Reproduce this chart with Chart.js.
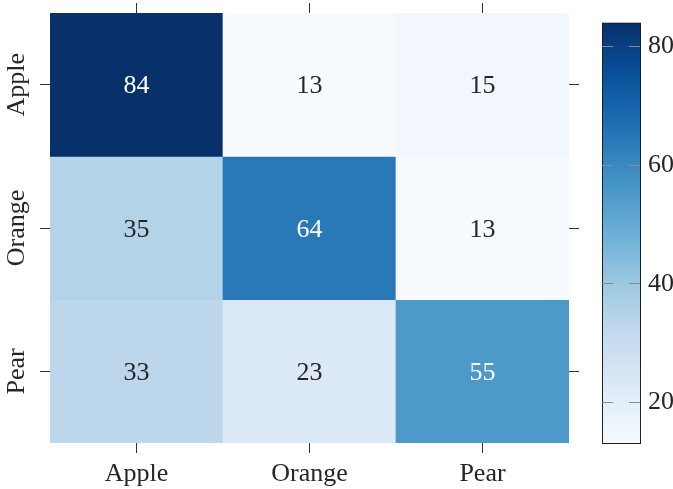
<!DOCTYPE html>
<html>
<head>
<meta charset="utf-8">
<title>Confusion matrix</title>
<script src="https://cdn.jsdelivr.net/npm/chart.js@4.4.0/dist/chart.umd.min.js"></script>
<style>
  html, body { margin: 0; padding: 0; background: #ffffff; }
  #wrap { position: relative; width: 673px; height: 489px; }
  #heatBox { position: absolute; left: 0; top: 0; width: 673px; height: 489px; }
  #barBox { position: absolute; left: 590px; top: 0; width: 83px; height: 489px; }
</style>
</head>
<body>
<div id="wrap">
  <div id="heatBox"><canvas id="heat"></canvas></div>
  <div id="barBox"><canvas id="bar"></canvas></div>
</div>
<script>
// Column (predicted) and row (actual) categories
const categories = ['Apple', 'Orange', 'Pear'];
const rowLabels = ['Apple', 'Orange', 'Pear'];

// Counts, one array per row, left to right
const appleRow = [84, 13, 15];
const orangeRow = [35, 64, 13];
const pearRow = [33, 23, 55];

// Colour bar tick values
const colorbarTicks = [20, 40, 60, 80];

const rows = [appleRow, orangeRow, pearRow];
const allValues = rows.flat();
const vmin = Math.min(...allValues);
const vmax = Math.max(...allValues);

const FONT = { family: "'Liberation Serif', 'Times New Roman', serif", size: 26 };
const TEXT_DARK = '#262626';
const TICK_COLOR = '#333333';

// Sequential "Blues" colour map nodes (light to dark)
const BLUES = ['#f7fbff', '#deebf7', '#c6dbef', '#9ecae1', '#6baed6',
               '#4292c6', '#2171b5', '#08519c', '#08306b'];

function hexToRgb(h) {
  const n = parseInt(h.slice(1), 16);
  return [(n >> 16) & 255, (n >> 8) & 255, n & 255];
}
const BLUES_RGB = BLUES.map(hexToRgb);

function bluesRgb(t) {
  t = Math.max(0, Math.min(1, t));
  const pos = t * (BLUES_RGB.length - 1);
  const i = Math.min(Math.floor(pos), BLUES_RGB.length - 2);
  const f = pos - i;
  const a = BLUES_RGB[i], b = BLUES_RGB[i + 1];
  return a.map((c, k) => Math.round(c + (b[k] - c) * f));
}
function colorFor(v) {
  const [r, g, b] = bluesRgb((v - vmin) / (vmax - vmin));
  return `rgb(${r},${g},${b})`;
}
function textColorFor(v) {
  const lin = bluesRgb((v - vmin) / (vmax - vmin)).map(c => {
    c /= 255;
    return c <= 0.03928 ? c / 12.92 : Math.pow((c + 0.055) / 1.055, 2.4);
  });
  const lum = 0.2126 * lin[0] + 0.7152 * lin[1] + 0.0722 * lin[2];
  return lum < 0.408 ? '#ffffff' : TEXT_DARK;
}

// Annotate every cell with its count
const cellLabels = {
  id: 'cellLabels',
  afterDatasetsDraw(chart) {
    const ctx = chart.ctx;
    ctx.save();
    ctx.font = `${FONT.size}px ${FONT.family}`;
    ctx.textAlign = 'center';
    ctx.textBaseline = 'alphabetic';
    chart.data.datasets.forEach((ds, i) => {
      chart.getDatasetMeta(i).data.forEach((bar, j) => {
        const v = ds.data[j].v;
        const c = bar.getCenterPoint();
        ctx.fillStyle = textColorFor(v);
        ctx.fillText(String(v), c.x, c.y + 8.8);
      });
    });
    ctx.restore();
  }
};

const tickGrid = {
  offset: false,
  drawOnChartArea: false,
  drawTicks: true,
  tickLength: 10,
  tickColor: TICK_COLOR,
  tickWidth: 1,
  color: TICK_COLOR
};

new Chart(document.getElementById('heat'), {
  type: 'bar',
  data: {
    datasets: rows.map((vals, r) => ({
      label: rowLabels[r],
      data: vals.map((v, c) => ({ x: categories[c], y: [rows.length - 1 - r, rows.length - r], v })),
      backgroundColor: vals.map(colorFor),
      borderWidth: 0,
      barPercentage: 1,
      categoryPercentage: 1,
      xAxisID: 'x',
      yAxisID: 'y'
    }))
  },
  options: {
    responsive: true,
    maintainAspectRatio: false,
    animation: false,
    devicePixelRatio: 1,
    layout: { padding: { left: 0, top: 3, right: 94, bottom: 0 } },
    plugins: { legend: { display: false }, tooltip: { enabled: false } },
    scales: {
      x: {
        type: 'category', labels: categories, position: 'bottom',
        offset: true, stacked: true,
        grid: tickGrid,
        border: { display: false },
        ticks: { font: FONT, color: TEXT_DARK, padding: 6, maxRotation: 0 },
        afterFit(s) { s.height = 46; }
      },
      xt: {
        type: 'category', labels: categories, position: 'top',
        offset: true,
        grid: tickGrid,
        border: { display: false },
        ticks: { display: false },
        afterFit(s) { s.height = 10; }
      },
      y: { type: 'linear', min: 0, max: rows.length, display: false },
      yl: {
        type: 'category', labels: rowLabels, position: 'left',
        offset: true,
        grid: tickGrid,
        border: { display: false },
        ticks: { font: FONT, color: TEXT_DARK, minRotation: 90, maxRotation: 90,
                 crossAlign: 'center', padding: -15 },
        afterFit(s) { s.width = 50; }
      },
      yr: {
        type: 'category', labels: rowLabels, position: 'right',
        offset: true,
        grid: tickGrid,
        border: { display: false },
        ticks: { display: false },
        afterFit(s) { s.width = 10; }
      }
    }
  },
  plugins: [cellLabels]
});

// Colour bar: one floating bar spanning the value range, filled with the map
function colorbarFill(context) {
  const chart = context.chart;
  const area = chart.chartArea;
  if (!area) return BLUES[4];
  const ys = chart.scales.y;
  const g = chart.ctx.createLinearGradient(0, ys.getPixelForValue(vmin), 0, ys.getPixelForValue(vmax));
  const n = 32;
  for (let k = 0; k <= n; k++) {
    const [r, gg, b] = bluesRgb(k / n);
    g.addColorStop(k / n, `rgb(${r},${gg},${b})`);
  }
  return g;
}

new Chart(document.getElementById('bar'), {
  type: 'bar',
  data: {
    labels: [''],
    datasets: [{
      data: [[vmin, vmax]],
      backgroundColor: colorbarFill,
      borderColor: '#1a1a1a',
      borderWidth: 1.3,
      borderSkipped: false,
      barPercentage: 1,
      categoryPercentage: 1
    }]
  },
  options: {
    responsive: true,
    maintainAspectRatio: false,
    animation: false,
    devicePixelRatio: 1,
    layout: { padding: { left: 12, top: 13, right: 0, bottom: 45 } },
    plugins: { legend: { display: false }, tooltip: { enabled: false } },
    scales: {
      x: { display: false },
      y: {
        type: 'linear', position: 'right', min: vmin, max: vmax,
        afterBuildTicks(s) { s.ticks = colorbarTicks.map(v => ({ value: v })); },
        grid: { drawOnChartArea: true, drawTicks: false, color: '#8c8c8c', lineWidth: 1, z: 1 },
        border: { display: false, dash: [11, 16] },
        ticks: { font: FONT, color: TEXT_DARK, padding: 7 },
        afterFit(s) { s.width = 32; }
      }
    }
  }
});
</script>
</body>
</html>
